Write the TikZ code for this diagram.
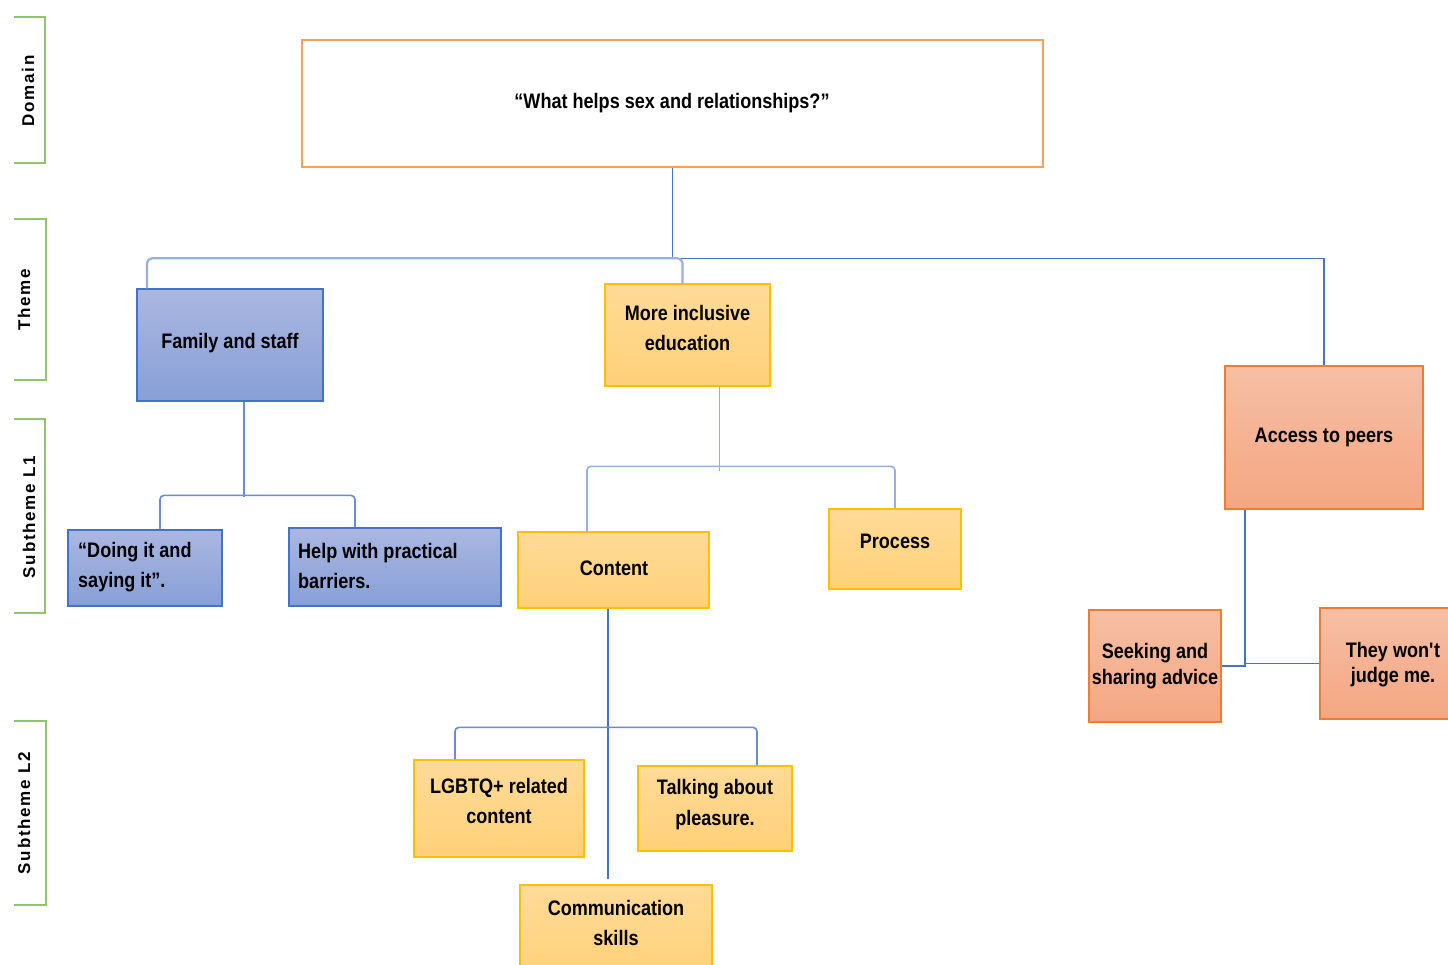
\documentclass[tikz,border=0pt]{standalone}
\usepackage{fontspec}
\setmainfont{Liberation Sans}
\newfontfamily\boxfont[FakeStretch=0.86]{Liberation Sans}
\newfontfamily\levelfont[LetterSpace=10]{Liberation Sans}
\usetikzlibrary{calc}

\definecolor{lvlgreen}{RGB}{146,196,112}
\definecolor{dombd}{RGB}{244,160,100}
\definecolor{bluebd}{RGB}{68,114,196}
\definecolor{bluetop}{RGB}{170,183,225}
\definecolor{bluebot}{RGB}{136,159,214}
\definecolor{ylwbd}{RGB}{255,192,0}
\definecolor{ylwtop}{RGB}{255,219,152}
\definecolor{ylwbot}{RGB}{255,208,120}
\definecolor{orbd}{RGB}{237,125,49}
\definecolor{ortop}{RGB}{246,191,165}
\definecolor{orbot}{RGB}{244,166,130}
\definecolor{linedark}{RGB}{68,114,196}
\definecolor{linemid}{RGB}{105,140,210}
\definecolor{linelight}{RGB}{150,176,224}

\tikzset{
  x=1pt, y=-1pt,
  frame/.style={draw, line width=1.3pt, inner sep=0pt},
  bluebox/.style={frame, draw=bluebd, top color=bluetop, bottom color=bluebot},
  ylwbox/.style={frame, draw=ylwbd, top color=ylwtop, bottom color=ylwbot},
  orbox/.style={frame, draw=orbd, top color=ortop, bottom color=orbot},
  dombox/.style={frame, draw=dombd, fill=white},
  txt/.style={inner sep=0pt, align=center, text=black,
    font=\boxfont\bfseries\fontsize{21}{30.5}\selectfont},
  txttight/.style={txt, font=\boxfont\bfseries\fontsize{21}{25.5}\selectfont},
  lvl/.style={rotate=90, inner sep=0pt, font=\levelfont\bfseries\fontsize{17}{20}\selectfont},
  bracket/.style={draw=lvlgreen, line width=1.6pt},
  ln/.style={draw=linedark, line width=1.3pt},
  lnm/.style={draw=linemid, line width=1.6pt, rounded corners=4pt},
  lnl/.style={draw=linelight, line width=2.2pt, rounded corners=5pt},
}

\begin{document}
\begin{tikzpicture}
\clip (0,0) rectangle (1448,965);
\fill[white] (0,0) rectangle (1448,965);

% level brackets on the left
\draw[bracket] (14,17) -| (45,163) -- (14,163);
\draw[bracket] (14,219) -| (46,380) -- (14,380);
\draw[bracket] (14,419) -| (45,613) -- (14,613);
\draw[bracket] (14,721) -| (46,905) -- (14,905);
\node[lvl] (lv-dom) at (28,91) {Domain};
\node[lvl] (lv-thm) at (24,300) {Theme};
\node[lvl] (lv-s1) at (29,517) {Subtheme L1};
\node[lvl] (lv-s2) at (24,813) {Subtheme L2};

% boxes
\node[dombox, minimum width=741, minimum height=127] (dom) at (672.5,103.5) {};
\node[bluebox, minimum width=186, minimum height=112] (fam) at (230,345) {};
\node[ylwbox, minimum width=165, minimum height=102] (inc) at (687.5,335) {};
\node[orbox, minimum width=198, minimum height=143] (acc) at (1324,437.5) {};
\node[bluebox, minimum width=154, minimum height=76] (doing) at (145,568) {};
\node[bluebox, minimum width=212, minimum height=78] (help) at (395,567) {};
\node[ylwbox, minimum width=191, minimum height=76] (cont) at (613.5,570) {};
\node[ylwbox, minimum width=132, minimum height=80] (proc) at (895,549) {};
\node[orbox, minimum width=132, minimum height=112] (seek) at (1155,666) {};
\node[orbox, minimum width=146, minimum height=111] (they) at (1393,663.5) {};
\node[ylwbox, minimum width=170, minimum height=97] (lgb) at (499,808.5) {};
\node[ylwbox, minimum width=154, minimum height=85] (talk) at (715,808.5) {};
\node[ylwbox, minimum width=192, minimum height=95] (comm) at (616,932.5) {};

% box texts
\node[txt] (dom-t) at (672,103) {“What helps sex and relationships?”};
\node[txt] (fam-t) at (230,343) {Family and staff};
\node[txt] (inc-t) at (687.5,328) {More inclusive\\education};
\node[txt] (acc-t) at (1324,437) {Access to peers};
\node[txt, align=left, anchor=west] (doing-t) at (78,567) {“Doing it and\\saying it”.};
\node[txt, align=left, anchor=west] (help-t) at (298,566) {Help with practical\\barriers.};
\node[txt] (cont-t) at (614,568) {Content};
\node[txt] (proc-t) at (895,541) {Process};
\node[txttight] (seek-t) at (1155,666) {Seeking and\\sharing advice};
\node[txttight] (they-t) at (1393,664.5) {They won\textquotesingle t\\judge me.};
\node[txt] (lgb-t) at (499,801) {LGBTQ+ related\\content};
\node[txt] (talk-t) at (715,804.5) {Talking about\\pleasure.};
\node[txt] (comm-t) at (616,923) {Communication\\skills};

% connectors
\draw[ln] (dom.south) -- ++(0,91) -| (acc.north);
\draw[lnl] ([xshift=-83]fam.north) |- ($(inc.north)+(-5,-25)$) -- ([xshift=-5]inc.north);

\draw[lnm] ([xshift=14]fam.south) -- ++(0,95);
\draw[lnm] ([xshift=15]doing.north) |- ($(help.north)+(-40,-32)$) -- ([xshift=-40]help.north);

\draw[lnm, draw=linelight] ([xshift=32]inc.south) -- ++(0,84);
\draw[lnm, draw=linelight] ([xshift=-26.5]cont.north) |- ($(proc.north)+(0,-42)$) -- (proc.north);

\draw[ln] ([xshift=-5.5]cont.south) -- ($(comm.north)+(-8,-5)$);
\draw[lnm] ([xshift=-44]lgb.north) |- ($(talk.north)+(42,-38)$) -- ([xshift=42]talk.north);

\draw[ln] ([xshift=-79]acc.south) |- (seek.east);
\draw[ln] (they.west) -- ++(-74,0);
\end{tikzpicture}
\end{document}
